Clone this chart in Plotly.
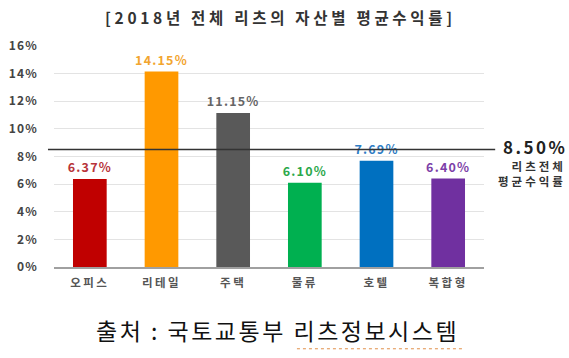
import plotly.graph_objects as go

categories = ["오피스", "리테일", "주택", "물류", "호텔", "복합형"]
values = [6.37, 14.15, 11.15, 6.10, 7.69, 6.40]
bar_colors = ["#C00000", "#FF9900", "#595959", "#00B050", "#0070C0", "#7030A0"]
label_colors = ["#B8343A", "#F2A52F", "#666666", "#2BA84A", "#2F7DC4", "#7D3FA8"]
avg_value = 8.50
y_ticks = [0, 2, 4, 6, 8, 10, 12, 14, 16]

title_text = "[2018년 전체 리츠의 자산별 평균수익률]"
avg_label_lines = ["리츠전체", "평균수익률"]
source_text = "출처 : 국토교통부 리츠정보시스템"


def spaced(s, px, bold=False):
    inner = f"<b>{s}</b>" if bold else s
    return f'<span style="letter-spacing:{px}px">{inner}</span>'


FONT = "Noto Sans CJK KR"

fig = go.Figure()
fig.add_trace(go.Bar(
    x=categories, y=values,
    marker=dict(color=bar_colors, line=dict(width=0)),
    text=[spaced(f"{v:.2f}%", 1.2, bold=True) for v in values],
    textposition="outside",
    constraintext="none",
    textfont=dict(color=label_colors, size=12.5, family=FONT),
    cliponaxis=False,
    width=0.47,
    hoverinfo="skip",
))

# overall average line
fig.add_shape(type="line", xref="paper", yref="y", x0=-0.014, x1=1.026,
              y0=avg_value, y1=avg_value, line=dict(color="#333333", width=1.5))

fig.add_annotation(xref="paper", yref="y", x=1.2, y=avg_value + 0.25, text=spaced(f"{avg_value:.2f}%", 2.5, bold=True),
                   showarrow=False, xanchor="right", yanchor="middle",
                   font=dict(size=17, color="#222222", family=FONT))
fig.add_annotation(xref="paper", yref="y", x=1.196, y=avg_value - 1.75,
                   text="<br>".join(spaced(s, 3, bold=True) for s in avg_label_lines),
                   showarrow=False, xanchor="right", yanchor="middle", align="right",
                   font=dict(size=11.5, color="#333333", family=FONT))

fig.add_annotation(xref="paper", yref="paper", x=0.526, y=1.13, text=spaced(title_text, 3.7, bold=True),
                   showarrow=False, xanchor="center", yanchor="middle",
                   font=dict(size=15.5, color="#333333", family=FONT))

fig.add_annotation(xref="paper", yref="paper", x=0.519, y=-0.285, text=spaced(source_text, 2.5),
                   showarrow=False, xanchor="center", yanchor="middle",
                   font=dict(size=23, color="#111111", family=FONT))
fig.add_shape(type="line", xref="paper", yref="paper", x0=0.565, x1=0.949, y0=-0.37, y1=-0.37,
              line=dict(color="#E0904A", width=1, dash="dot"))

fig.update_layout(
    width=569, height=358,
    margin=dict(l=54, r=85, t=46, b=91),
    paper_bgcolor="white", plot_bgcolor="white",
    showlegend=False,
    font=dict(family=FONT),
    xaxis=dict(showline=True, linecolor="#A0A0A0", linewidth=1.5, ticks="", automargin=False,
               tickvals=categories, ticktext=[spaced(c, 2.5, bold=True) for c in categories],
               tickfont=dict(size=11.5, color="#555555"), ticklabelstandoff=4, fixedrange=True),
    yaxis=dict(range=[0, 16], tickvals=y_ticks, ticktext=[spaced(f"{t}%", 1.2, bold=True) for t in y_ticks],
               showgrid=True, gridcolor="#E3E3E3", gridwidth=1, zeroline=False, automargin=False,
               tickfont=dict(size=12, color="#444444"), ticklabelstandoff=15, fixedrange=True),
)

fig.write_html("out.html", config={"displayModeBar": False},
               post_script="document.body.style.margin='0';")
